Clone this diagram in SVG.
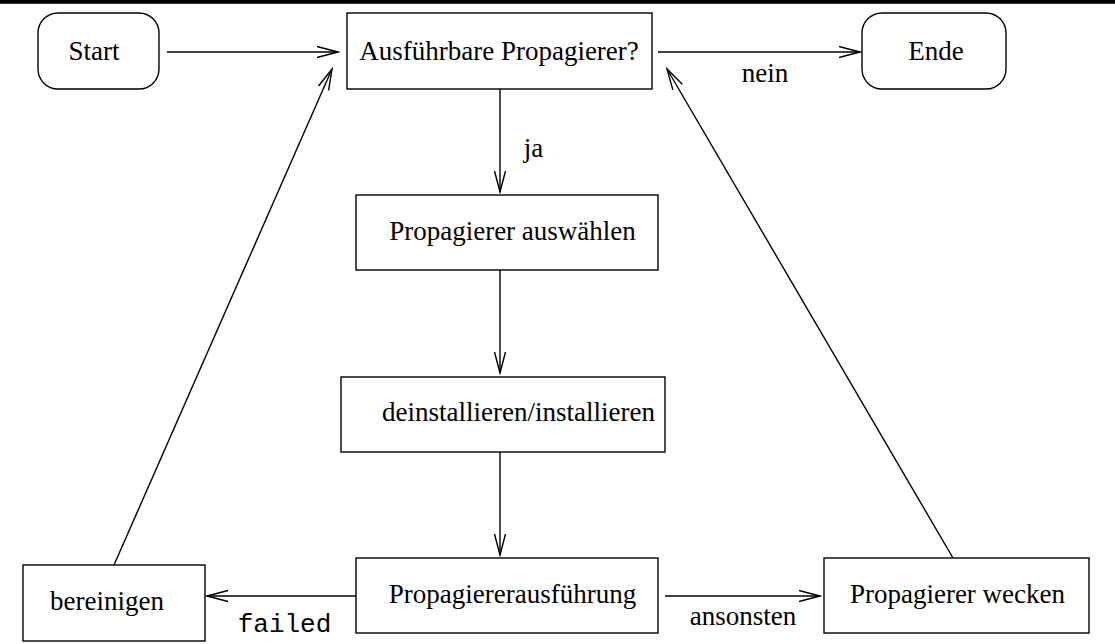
<svg xmlns="http://www.w3.org/2000/svg" width="1115" height="644" viewBox="0 0 1115 644">
  <style>
    .box { fill: #ffffff; stroke: #000000; stroke-width: 1.4; }
    .lbl { font-family: "Liberation Serif", "Times New Roman", serif; font-size: 27px; fill: #000000; text-anchor: middle; }
    .mono { font-family: "Liberation Mono", "Courier New", monospace; font-size: 26px; fill: #000000; text-anchor: middle; }
    .edge { fill: none; stroke: #000000; stroke-width: 1.4; marker-end: url(#open); }
  </style>
  <defs>
    <marker id="open" markerUnits="userSpaceOnUse" markerWidth="24" markerHeight="14" viewBox="-22 -7 24 14" refX="0" refY="0" orient="auto">
      <path d="M-21,-5.5 L0,0 L-21,5.5" fill="none" stroke="#000000" stroke-width="1.4"/>
    </marker>
  </defs>

  <rect x="0" y="0" width="1115" height="3.8" fill="#000000"/>

  <g id="connectors">
    <line class="edge" x1="167" y1="52" x2="338" y2="52"/>
    <line class="edge" x1="658" y1="52" x2="860" y2="52"/>
    <line class="edge" x1="500" y1="89" x2="500" y2="192"/>
    <line class="edge" x1="500" y1="270" x2="500" y2="373"/>
    <line class="edge" x1="500" y1="452" x2="500" y2="555"/>
    <line class="edge" x1="356" y1="596" x2="207" y2="596"/>
    <line class="edge" x1="665" y1="596" x2="820" y2="596"/>
    <line class="edge" x1="114" y1="565" x2="332" y2="69"/>
    <line class="edge" x1="953" y1="558" x2="667" y2="69"/>
    <text class="lbl" x="765" y="82">nein</text>
    <text class="lbl" x="533.5" y="157">ja</text>
    <text class="mono" x="284.5" y="632">failed</text>
    <text class="lbl" x="743" y="625">ansonsten</text>
  </g>

  <g id="start">
    <rect class="box" x="38" y="13" width="121" height="76" rx="20" ry="20"/>
    <text class="lbl" x="94" y="60">Start</text>
  </g>

  <g id="check">
    <rect class="box" x="347" y="13" width="305" height="76"/>
    <text class="lbl" x="499" y="60">Ausführbare Propagierer?</text>
  </g>

  <g id="end">
    <rect class="box" x="862" y="13" width="144" height="76" rx="20" ry="20"/>
    <text class="lbl" x="936" y="60">Ende</text>
  </g>

  <g id="select">
    <rect class="box" x="356" y="195" width="302" height="75"/>
    <text class="lbl" x="512.5" y="240">Propagierer auswählen</text>
  </g>

  <g id="reinstall">
    <rect class="box" x="341" y="377" width="324" height="75"/>
    <text class="lbl" x="518.5" y="421">deinstallieren/installieren</text>
  </g>

  <g id="execute">
    <rect class="box" x="356" y="558" width="302" height="75"/>
    <text class="lbl" x="512.5" y="603">Propagiererausführung</text>
  </g>

  <g id="cleanup">
    <rect class="box" x="23" y="565" width="182" height="76"/>
    <text class="lbl" x="107" y="610">bereinigen</text>
  </g>

  <g id="wake">
    <rect class="box" x="824" y="558" width="265" height="75"/>
    <text class="lbl" x="957.5" y="603">Propagierer wecken</text>
  </g>
</svg>
